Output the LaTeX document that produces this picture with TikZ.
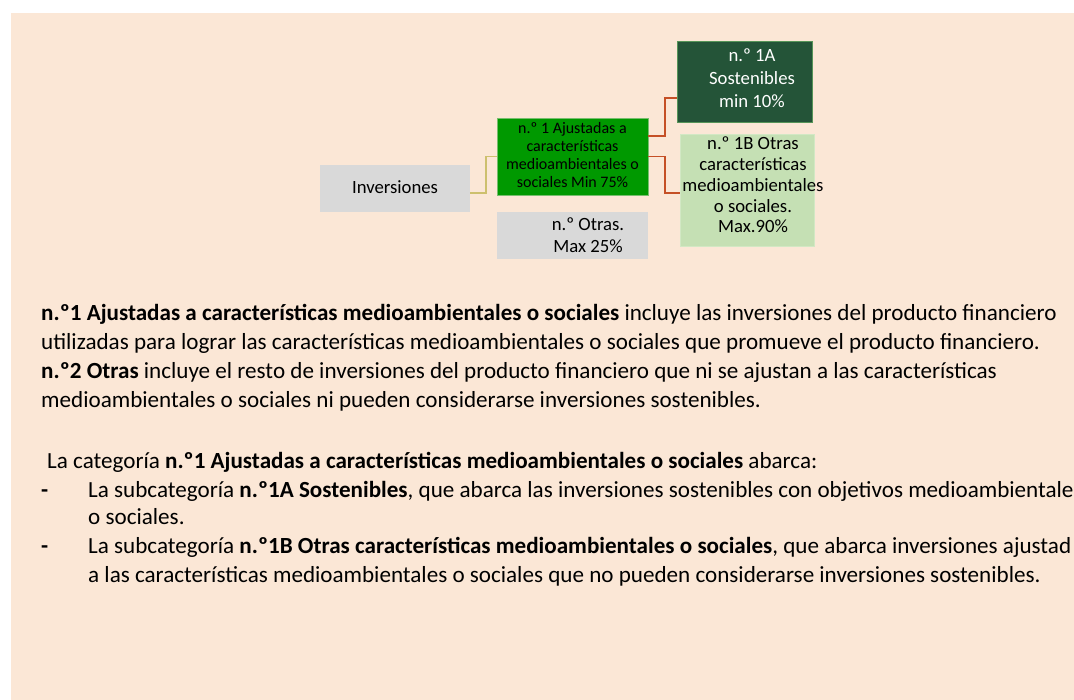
\documentclass[tikz,border=0pt]{standalone}
\usepackage{fontspec}
\setmainfont{Carlito}
\usetikzlibrary{calc}
\definecolor{bg}{RGB}{251,231,214}
\definecolor{boxgray}{RGB}{217,217,217}
\definecolor{midgreen}{RGB}{0,153,0}
\definecolor{midgreenedge}{RGB}{120,190,110}
\definecolor{darkgreen}{RGB}{36,84,56}
\definecolor{lightgreen}{RGB}{197,224,180}
\definecolor{lightgreenedge}{RGB}{210,232,196}
\definecolor{olivelink}{RGB}{205,192,110}
\definecolor{redlink}{RGB}{197,80,38}
\tikzset{
  box/.style={anchor=north west, inner sep=0pt, outer sep=0pt},
  boxtext/.style={align=center, inner sep=0pt, font=\fontsize{18.7}{21.7}\selectfont},
  smalltext/.style={align=center, inner sep=0pt, font=\fontsize{16}{17.8}\selectfont},
  body/.style={anchor=base west, inner sep=0pt, font=\fontsize{23.1}{29}\selectfont},
  olivecon/.style={draw=olivelink, line width=1.5pt},
  redcon/.style={draw=redlink, line width=1.7pt},
}
\begin{document}
\begin{tikzpicture}[x=1pt,y=-1pt]
\useasboundingbox (0,0) rectangle (1074,700);
\clip (0,0) rectangle (1074,700);
\fill[bg] (11,13) rectangle (1074,700);

% boxes
\node[box, fill=boxgray, minimum width=150pt, minimum height=47pt] (inv) at (320,165) {};
\node[box, fill=midgreen, draw=midgreenedge, line width=0.8pt, minimum width=151pt, minimum height=77pt] (n1) at (497,118) {};
\node[box, fill=boxgray, minimum width=151pt, minimum height=47pt] (otras) at (497,212) {};
\node[box, fill=darkgreen, draw=midgreenedge!60!darkgreen, line width=0.6pt, minimum width=135pt, minimum height=81pt] (n1a) at (677,41) {};
\node[box, fill=lightgreen, draw=lightgreenedge, line width=0.8pt, minimum width=134pt, minimum height=112pt] (n1b) at (680,134) {};

% box texts
\node[boxtext] (invt) at ($(inv.center)+(0,-1)$) {Inversiones};
\node[smalltext] (n1t) at ($(n1.center)+(0,-1.5)$) {n.º 1 Ajustadas a\\características\\medioambientales o\\sociales Min 75\%};
\node[boxtext] (otrast) at ($(otras.center)+(15.5,0)$) {n.º Otras.\\Max 25\%};
\node[boxtext, text=white, font=\fontsize{18.7}{23.3}\selectfont] (n1at) at ($(n1a.center)+(7.5,-3.5)$) {n.º 1A\\Sostenibles\\min 10\%};
\node[boxtext, font=\fontsize{18.7}{20.8}\selectfont] (n1bt) at ($(n1b.center)+(6,-5)$) {n.º 1B Otras\\características\\medioambientales\\o sociales.\\Max.90\%};

% connectors
\draw[olivecon] ($(inv.east)+(0,4.5)$) -| ($(n1.west)+(-11,0)$) -- (n1.west);
\draw[redcon] ($(n1.east)+(0,-20.5)$) -- ++(17,0) |- ($(n1a.west)+(0,16.5)$);
\draw[redcon] (n1.east) -- ++(17,0) |- ($(n1b.west)+(0,3)$);

% body text
\node[body] (p1) at (41,321) {\textbf{n.º1 Ajustadas a características medioambientales o sociales} incluye las inversiones del producto financiero};
\node[body] (p2) at (41,350) {utilizadas para lograr las características medioambientales o sociales que promueve el producto financiero.};
\node[body] (p3) at (41,379) {\textbf{n.º2 Otras} incluye el resto de inversiones del producto financiero que ni se ajustan a las características};
\node[body] (p4) at (41,408) {medioambientales o sociales ni pueden considerarse inversiones sostenibles.};

\node[body] (c1) at (47,468) {La categoría \textbf{n.º1 Ajustadas a características medioambientales o sociales} abarca:};

\node[body] (d1) at (41,497) {\textbf{-}};
\node[body] (b1) at (88,497) {La subcategoría \textbf{n.º1A Sostenibles}, que abarca las inversiones sostenibles con objetivos medioambientale};
\node[body] (b1b) at (88,524) {o sociales.};
\node[body] (d2) at (41,553) {\textbf{-}};
\node[body] (b2) at (88,553) {La subcategoría \textbf{n.º1B Otras características medioambientales o sociales}, que abarca inversiones ajustad};
\node[body] (b2b) at (88,582) {a las características medioambientales o sociales que no pueden considerarse inversiones sostenibles.};
\end{tikzpicture}
\end{document}
